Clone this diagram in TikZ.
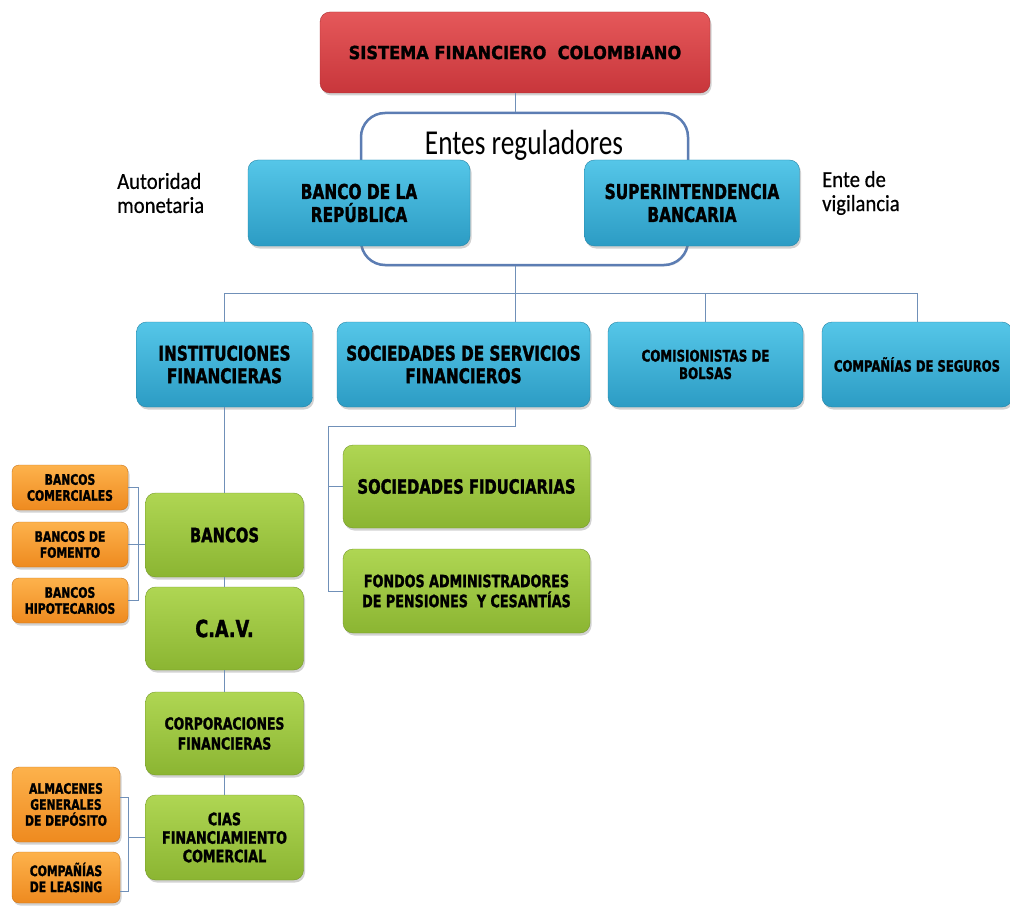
\documentclass[tikz,border=0pt]{standalone}
\usepackage{fontspec}
\usetikzlibrary{shadows}
\newfontfamily\cajafont{DejaVu Sans}[FakeStretch=0.75, FakeBold=1.5]
\newfontfamily\titfont{DejaVu Sans}[FakeStretch=0.9, FakeBold=1.5]
\newfontfamily\entefont{Carlito}[FakeStretch=0.78]
\newfontfamily\ladofont{Carlito}[FakeStretch=0.9, FakeBold=0.5]
\newcommand{\tam}[2]{\fontsize{#1}{#2}\selectfont}
\definecolor{rojoA}{HTML}{E5585A}
\definecolor{rojoB}{HTML}{C8363B}
\definecolor{azulA}{HTML}{55C6E8}
\definecolor{azulB}{HTML}{2C9CC4}
\definecolor{verdeA}{HTML}{AFD653}
\definecolor{verdeB}{HTML}{8BB532}
\definecolor{naranjaA}{HTML}{FDB24C}
\definecolor{naranjaB}{HTML}{EE8A1F}
\definecolor{linea}{HTML}{7090B8}
\definecolor{bordeente}{HTML}{5C7DB3}

\begin{document}
\begin{tikzpicture}[x=1pt, y=-1pt,
	every node/.style={inner sep=0pt, align=center, text=black},
	caja/.style={rounded corners=10pt, line width=0.4pt, drop shadow={shadow xshift=1.5pt, shadow yshift=-2.5pt, opacity=0.35}},
	roja/.style={caja, top color=rojoA, bottom color=rojoB, draw=rojoB!85!black},
	azul/.style={caja, top color=azulA, bottom color=azulB, draw=azulB!85!black, minimum height=85pt},
	verde/.style={caja, top color=verdeA, bottom color=verdeB, draw=verdeB!85!black, minimum width=158pt, minimum height=84pt},
	naranja/.style={caja, rounded corners=7pt, top color=naranjaA, bottom color=naranjaB, draw=naranjaB!85!black, minimum width=116pt, minimum height=45pt, font=\cajafont\bfseries\tam{14.4}{16}},
	enteborde/.style={rounded corners=24pt, draw=bordeente, line width=2.5pt, fill=white, drop shadow={shadow xshift=1pt, shadow yshift=-1.5pt, opacity=0.2}},
	conector/.style={draw=linea, line width=0.9pt}]
	\useasboundingbox[fill=white] (0,0) rectangle (1010,915);
	\node[roja, minimum width=390pt, minimum height=81pt, font=\titfont\bfseries\tam{18}{20}] (sfc) at (515,52.5) {SISTEMA FINANCIERO\ \ COLOMBIANO};
	\node[enteborde, minimum width=327pt, minimum height=152pt] (ente) at (524.5,189) {};
	\node[anchor=base, font=\entefont\tam{35}{38}] (entelbl) at (524,155) {Entes reguladores};
	\node[azul, minimum width=222pt, minimum height=86pt, font=\cajafont\bfseries\tam{20.5}{23}] (banrep) at (359,203) {BANCO DE LA\\REPÚBLICA};
	\node[azul, minimum width=215pt, minimum height=86pt, font=\cajafont\bfseries\tam{20.5}{23}] (super) at (692,203) {SUPERINTENDENCIA\\BANCARIA};
	\node[anchor=west, align=left, font=\ladofont\tam{23}{24}] (autlbl) at (117,193) {Autoridad\\monetaria};
	\node[anchor=west, align=left, font=\ladofont\tam{23}{24}] (vigilbl) at (822,193) {Ente de\\vigilancia};
	\node[azul, minimum width=176pt, font=\cajafont\bfseries\tam{20.3}{22.5}] (inst) at (224.5,364.5) {INSTITUCIONES\\FINANCIERAS};
	\node[azul, minimum width=253pt, font=\cajafont\bfseries\tam{20.3}{22.5}] (socs) at (463.5,364.5) {SOCIEDADES DE SERVICIOS\\FINANCIEROS};
	\node[azul, minimum width=195pt, font=\cajafont\bfseries\tam{15.8}{17.5}] (comi) at (705.5,364.5) {COMISIONISTAS DE\\BOLSAS};
	\node[azul, minimum width=190pt, font=\cajafont\bfseries\tam{15.5}{17}] (comp) at (917,364.5) {COMPAÑÍAS DE SEGUROS};
	\node[verde, minimum width=247pt, minimum height=83pt, font=\cajafont\bfseries\tam{19.7}{22}] (fidu) at (466.5,486.5) {SOCIEDADES FIDUCIARIAS};
	\node[verde, minimum width=247pt, font=\cajafont\bfseries\tam{17}{20}] (fondos) at (466.5,591) {FONDOS ADMINISTRADORES\\DE PENSIONES\ \ Y CESANTÍAS};
	\node[verde, font=\cajafont\bfseries\tam{19.7}{22}] (bancos) at (224.5,535) {BANCOS};
	\node[verde, minimum height=83pt, font=\cajafont\bfseries\tam{23.5}{25}] (cav) at (224.5,628.5) {C.A.V.};
	\node[verde, minimum height=83pt, font=\cajafont\bfseries\tam{16.5}{20}] (corp) at (224.5,733.5) {CORPORACIONES\\FINANCIERAS};
	\node[verde, minimum height=85pt, font=\cajafont\bfseries\tam{17}{18.5}] (cias) at (224.5,837.5) {CIAS\\FINANCIAMIENTO\\COMERCIAL};
	\node[naranja] (com) at (70,487.5) {BANCOS\\COMERCIALES};
	\node[naranja] (fom) at (70,544.5) {BANCOS DE\\FOMENTO};
	\node[naranja] (hip) at (70,600.5) {BANCOS\\HIPOTECARIOS};
	\node[naranja, minimum width=108pt, minimum height=75pt] (alm) at (66,804.5) {ALMACENES\\GENERALES\\DE DEPÓSITO};
	\node[naranja, minimum width=108pt, minimum height=51pt] (leas) at (66,877.5) {COMPAÑÍAS\\DE LEASING};
	\coordinate (bus) at (0,293);
	\coordinate (socbus) at (328,426);
	\coordinate (ramaB) at (138,0);
	\coordinate (ramaC) at (128,0);
	\draw[conector] (sfc.south) -- (sfc.south |- ente.north);
	\draw[conector] (sfc.south |- ente.south) -- (sfc.south |- socs.north);
	\draw[conector] (inst.north) |- (bus -| comp.north) -- (comp.north);
	\draw[conector] (comi.north) -- (comi.north |- bus);
	\draw[conector] (sfc.south |- socs.south) |- (socbus) |- (fondos.west);
	\draw[conector] (socbus) |- (fidu.west);
	\draw[conector] (inst) -- (bancos) -- (cav) -- (corp) -- (cias);
	\draw[conector] (com.east) -- (com.east -| ramaB) |- (hip.east);
	\draw[conector] (fom.east) -- (fom.east -| bancos.west);
	\draw[conector] ([yshift=7pt]alm.east) -- ([yshift=7pt]alm.east -| ramaC) |- ([yshift=-14pt]leas.east);
	\draw[conector] (cias.west) -- (cias.west -| ramaC);
\end{tikzpicture}
\end{document}
